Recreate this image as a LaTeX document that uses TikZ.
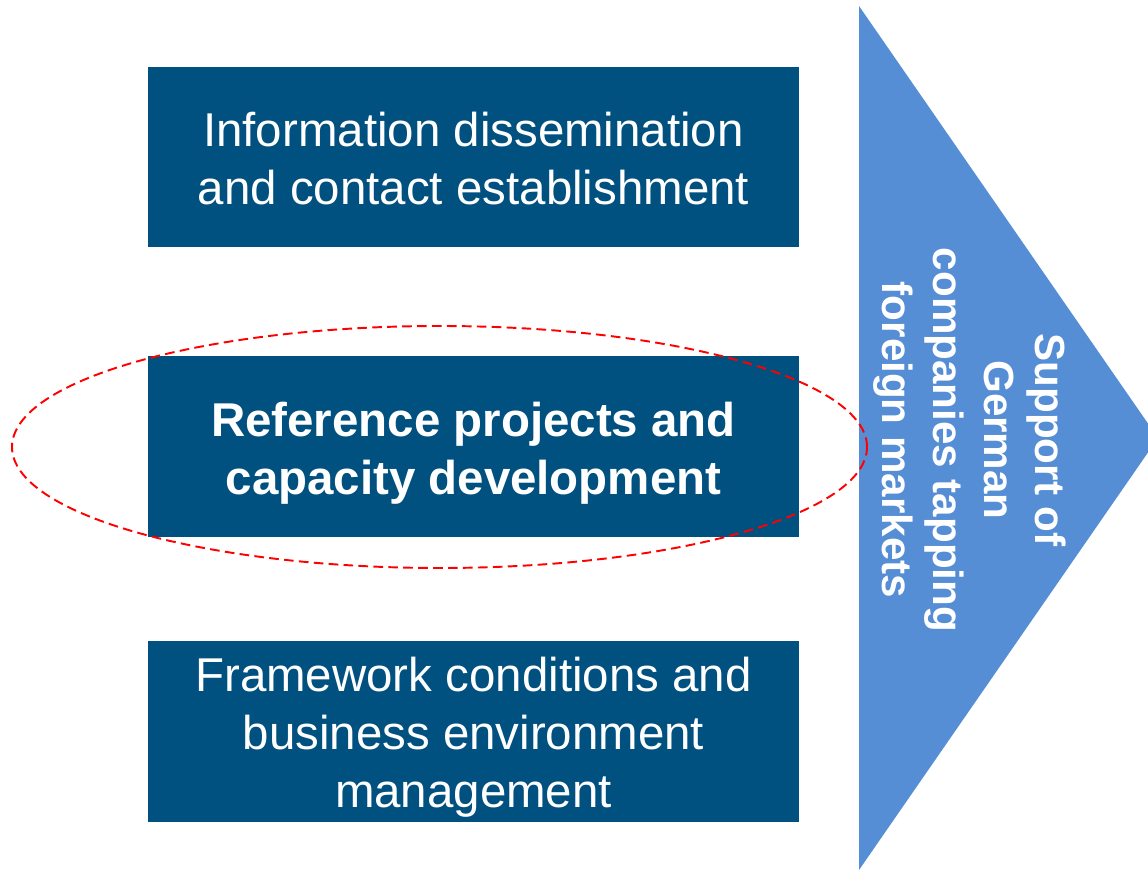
\documentclass[tikz,border=0pt]{standalone}
\usepackage{fontspec}
\setmainfont{Liberation Sans}
\usetikzlibrary{shapes.geometric}
\definecolor{boxblue}{RGB}{0,80,128}
\definecolor{arrowblue}{RGB}{85,142,213}
\begin{document}
\begin{tikzpicture}[
  field/.style={fill=boxblue, minimum width=13.02cm, minimum height=3.61cm, inner sep=0pt},
  fieldtext/.style={text=white, align=center, inner sep=0pt, font=\fontsize{27}{33}\selectfont},
  focus/.style={draw=red, dashed, dash pattern=on 5.5pt off 3pt, line width=1.1pt, ellipse,
    minimum width=17.1cm, minimum height=4.84cm}]

\useasboundingbox (0,0) rectangle (22.96,17.4);

\fill[arrowblue] (17.18,17.28) -- (23.16,8.64) -- (17.18,0) -- cycle;
\node[text=white, rotate=-90, align=center, font=\bfseries\fontsize{24}{29}\selectfont] (goal) at (19.4,8.6)
  {Support of\\German\\companies tapping\\foreign markets};

\node[field] (info) at (9.47,14.26) {};
\node[fieldtext] (infotext) at ([yshift=-0.04cm]info.center) {Information dissemination\\and contact establishment};

\node[field] (ref) at (9.47,8.47) {};
\node[fieldtext, font=\bfseries\fontsize{27}{33}\selectfont] (reftext) at ([yshift=-0.14cm]ref.center) {Reference projects and\\capacity development};

\node[field] (frame) at (9.47,2.77) {};
\node[fieldtext] (frametext) at ([yshift=-0.12cm]frame.center) {Framework conditions and\\business environment\\management};

\node[focus] (mark) at (8.79,8.46) {};

\end{tikzpicture}
\end{document}
